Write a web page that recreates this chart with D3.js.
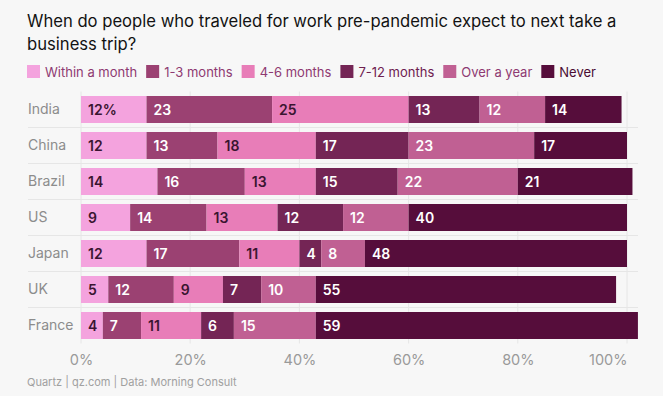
<!DOCTYPE html>
<html>
<head>
<meta charset="utf-8">
<script src="https://cdn.jsdelivr.net/npm/d3@7"></script>
<style>
  body { margin: 0; background: #f7f7f7; }
  svg { font-family: Inter, "Open Sans", sans-serif; display: block; }
</style>
</head>
<body>
<div id="chart"></div>
<script>
// chart data
const countries = ['India', 'China', 'Brazil', 'US', 'Japan', 'UK', 'France'];
const seriesNames = ['Within a month', '1-3 months', '4-6 months', '7-12 months', 'Over a year', 'Never'];
const withinMonth = [12, 12, 14, 9, 12, 5, 4];
const oneToThree = [23, 13, 16, 14, 17, 12, 7];
const fourToSix = [25, 18, 13, 13, 11, 9, 11];
const sevenToTwelve = [13, 17, 15, 12, 4, 7, 6];
const overYear = [12, 23, 22, 12, 8, 10, 15];
const never = [14, 17, 21, 40, 48, 55, 59];
const xTicks = [0, 20, 40, 60, 80, 100];

const colors = ['#f4a3de', '#9b4172', '#e87db8', '#742555', '#c06093', '#560d3b'];
const legendTextColors = ['#8e3a72', '#8e3a72', '#8e3a72', '#6e2050', '#8e3a72', '#4a0c33'];
const darkLabel = [true, false, true, false, false, false];

const width = 663, height = 396;
const margin = { left: 81, right: 36, top: 91.5, bottom: 52.5 };

const svg = d3.select('#chart').append('svg')
  .attr('width', width)
  .attr('height', height);

// title, sized so the first line spans like the original
const title = svg.append('text')
  .attr('x', 27)
  .attr('font-size', 18)
  .attr('fill', '#121212');
const line1 = title.append('tspan').attr('x', 27).attr('y', 27)
  .text('When do people who traveled for work pre-pandemic expect to next take a');
title.append('tspan').attr('x', 27).attr('y', 50)
  .text('business trip?');
const w1 = line1.node().getComputedTextLength();
title.attr('font-size', 18 * 590 / w1);

// legend
const legend = svg.append('g').attr('transform', 'translate(27, 65)');
let lx = 0;
seriesNames.forEach((name, i) => {
  const g = legend.append('g').attr('transform', `translate(${lx}, 0)`);
  g.append('rect').attr('width', 13).attr('height', 13).attr('fill', colors[i]);
  const t = g.append('text')
    .attr('x', 18).attr('y', 11.5)
    .attr('font-size', 13)
    .attr('fill', legendTextColors[i])
    .text(name);
  lx += 18 + t.node().getComputedTextLength() + 9;
});

// scales
const x = d3.scaleLinear().domain([0, 100]).range([margin.left, 627]);
const y = d3.scaleBand().domain(countries)
  .range([margin.top, height - margin.bottom])
  .paddingInner(0.25).paddingOuter(0.125);

// gridlines
svg.append('g')
  .selectAll('line')
  .data(xTicks)
  .join('line')
  .attr('x1', d => x(d)).attr('x2', d => x(d))
  .attr('y1', margin.top).attr('y2', height - margin.bottom)
  .attr('stroke', '#e6e6e6');

svg.append('g')
  .selectAll('line')
  .data(countries.slice(1))
  .join('line')
  .attr('x1', 28).attr('x2', 638)
  .attr('y1', d => y(d) - y.step() * 0.125)
  .attr('y2', d => y(d) - y.step() * 0.125)
  .attr('stroke', '#e6e6e6');

// x axis labels
const xAxis = svg.append('g')
  .attr('transform', `translate(0, ${height - margin.bottom})`)
  .call(d3.axisBottom(x).tickValues(xTicks).tickFormat(d => d + '%').tickSize(0).tickPadding(11));
xAxis.select('.domain').remove();
xAxis.selectAll('text')
  .attr('font-family', 'Inter, sans-serif')
  .attr('font-size', 14.5)
  .attr('fill', '#9a9a9a')
  .attr('text-anchor', d => d === 100 ? 'end' : 'middle');

// country labels
svg.append('g')
  .selectAll('text')
  .data(countries)
  .join('text')
  .attr('x', 28)
  .attr('y', d => y(d) + y.bandwidth() / 2)
  .attr('dy', '0.35em')
  .attr('font-size', 14)
  .attr('fill', '#8c8c8c')
  .text(d => d);

// stacked bars
const table = countries.map((c, i) => ({
  country: c,
  'Within a month': withinMonth[i],
  '1-3 months': oneToThree[i],
  '4-6 months': fourToSix[i],
  '7-12 months': sevenToTwelve[i],
  'Over a year': overYear[i],
  'Never': never[i]
}));
const stacked = d3.stack().keys(seriesNames)(table);

const layers = svg.append('g')
  .selectAll('g')
  .data(stacked)
  .join('g');

layers.selectAll('rect')
  .data(d => d)
  .join('rect')
  .attr('x', d => x(d[0]))
  .attr('y', d => y(d.data.country))
  .attr('width', d => x(d[1]) - x(d[0]))
  .attr('height', y.bandwidth())
  .attr('fill', function() { return colors[d3.select(this.parentNode).datum().index]; });

layers.selectAll('text')
  .data(d => d.map(v => ({ v, k: d.index })))
  .join('text')
  .attr('x', d => x(d.v[0]) + 7)
  .attr('y', d => y(d.v.data.country) + y.bandwidth() / 2)
  .attr('dy', '0.36em')
  .attr('font-size', 14)
  .attr('font-weight', 600)
  .attr('fill', d => darkLabel[d.k] ? '#3a1530' : '#ffffff')
  .text(d => {
    const val = d.v[1] - d.v[0];
    return (d.k === 0 && d.v.data.country === 'India') ? val + '%' : val;
  });

// footer
svg.append('text')
  .attr('x', 27).attr('y', 386)
  .attr('font-size', 11)
  .attr('fill', '#a0a0a0')
  .text('Quartz | qz.com | Data: Morning Consult');
</script>
</body>
</html>
